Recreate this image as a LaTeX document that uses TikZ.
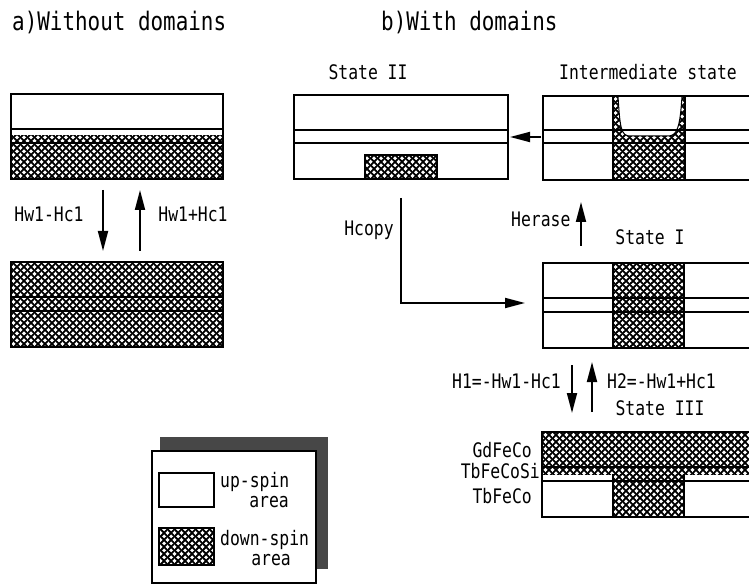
\documentclass[tikz,border=0pt]{standalone}
\usepackage{fontspec}
\usetikzlibrary{patterns.meta,arrows.meta}
\newfontfamily\monofam[FakeStretch=0.82]{DejaVu Sans Mono}
\newcommand\smallmono{\monofam\fontsize{20}{21}\selectfont}
\newcommand\bigmono{\monofam\fontsize{25.5}{27}\selectfont}

% dense cross-hatch used for down-spin areas
\tikzdeclarepattern{
  name=xhatch,
  type=uncolored,
  bottom left={(0pt,0pt)},
  top right={(7pt,7pt)},
  tile size={(7pt,7pt)},
  code={
    \draw[line width=2pt] (-1pt,-1pt) -- (8pt,8pt) (-1pt,8pt) -- (8pt,-1pt);
  }
}

\tikzset{
  wall/.style={line width=1.6pt},
  thinwall/.style={line width=1pt},
  dn/.style={pattern=xhatch, pattern color=black},
  lbl/.style={font=\smallmono, inner sep=0pt},
  ttl/.style={font=\bigmono, inner sep=0pt},
  fld/.style={line width=1.8pt, -{Triangle[length=20pt,width=10pt]}},
}

\begin{document}
\begin{tikzpicture}[x=1pt,y=-1pt]
\useasboundingbox (0,0) rectangle (749,585);

% ---------- titles ----------
\node[ttl, anchor=base west] (ta) at (12,31) {a)Without domains};
\node[ttl, anchor=base west] (tb) at (381,31) {b)With domains};

% ---------- a) top stack ----------
\fill[dn] (11,136) rectangle (223,179);
\draw[wall] (11,94) rectangle (223,179);
\draw[wall] (11,129) -- (223,129) (11,143) -- (223,143);

% ---------- a) bottom stack ----------
\fill[dn] (11,262) rectangle (223,347);
\draw[wall] (11,262) rectangle (223,347);
\draw[wall] (11,297) -- (223,297) (11,311) -- (223,311);

% a) field arrows
\coordinate (aDownS) at (103,190);
\coordinate (aDownE) at (103,251);
\coordinate (aUpS) at (140,251);
\coordinate (aUpE) at (140,190);
\draw[fld] (aDownS) -- (aDownE);
\draw[fld] (aUpS) -- (aUpE);
\node[lbl, anchor=base] (lwm) at (49,222) {Hw1-Hc1};
\node[lbl, anchor=base] (lwp) at (193,222) {Hw1+Hc1};

% ---------- b) State II ----------
\node[lbl, anchor=base] (s2) at (368,80) {State II};
\fill[dn] (365,155) rectangle (437,179);
\draw[wall] (365,155) rectangle (437,179);
\draw[wall] (294,95) rectangle (508,179);
\draw[wall] (294,130) -- (508,130) (294,143) -- (508,143);

% ---------- b) Intermediate state ----------
\node[lbl, anchor=base] (si) at (648,80) {Intermediate state};
\fill[dn] (613,96) rectangle (685,180);
\fill[white] (618,96) .. controls (620,128) and (621,136) .. (630,136)
  -- (668,136) .. controls (677,136) and (680,128) .. (682,96) -- cycle;
\draw[thinwall] (618,96) .. controls (620,128) and (621,136) .. (630,136)
  -- (668,136) .. controls (677,136) and (680,128) .. (682,96);
\draw[wall] (749,96) -- (543,96) -- (543,180) -- (749,180);
\draw[wall] (543,130) -- (749,130) (543,143) -- (749,143);
\draw[wall] (613,96) -- (613,180) (685,96) -- (685,180);

\coordinate (iL) at (541,137);
\coordinate (s2R) at (510,137);
\draw[fld] (iL) -- (s2R);

% ---------- b) State I ----------
\node[lbl, anchor=base] (s1) at (650,245) {State I};
\fill[dn] (613,263) rectangle (684,348);
\draw[wall] (749,263) -- (543,263) -- (543,348) -- (749,348);
\draw[wall] (543,298) -- (749,298) (543,312) -- (749,312);
\draw[wall] (613,263) -- (613,348) (684,263) -- (684,348);

% erase and copy fields
\coordinate (eS) at (581,246);
\coordinate (eE) at (581,202);
\draw[fld] (eS) -- (eE);
\node[lbl, anchor=base west] (her) at (511,227) {Herase};

\coordinate (cS) at (401,198);
\coordinate (cE) at (525,303);
\draw[fld] (cS) |- (cE);
\node[lbl, anchor=base] (hco) at (369,236) {Hcopy};

% fields between State I and State III
\coordinate (h1S) at (572,365);
\coordinate (h1E) at (572,413);
\coordinate (h2S) at (592,412);
\coordinate (h2E) at (592,362);
\draw[fld] (h1S) -- (h1E);
\draw[fld] (h2S) -- (h2E);
\node[lbl, anchor=base east] (h1) at (561,388) {H1=-Hw1-Hc1};
\node[lbl, anchor=base west] (h2) at (607,388) {H2=-Hw1+Hc1};

% ---------- b) State III ----------
\node[lbl, anchor=base] (s3) at (660,415) {State III};
\fill[dn] (542,432) rectangle (749,474);
\fill[dn] (613,474) rectangle (684,517);
\draw[wall] (749,432) -- (542,432) -- (542,517) -- (749,517);
\draw[wall] (542,467) -- (749,467) (542,481) -- (749,481);
\draw[wall] (613,474) -- (613,517) (684,474) -- (684,517);
\node[lbl, anchor=base east] (gd) at (532,457) {GdFeCo};
\node[lbl, anchor=base east] (tbs) at (540,478) {TbFeCoSi};
\node[lbl, anchor=base east] (tbf) at (532,503) {TbFeCo};

% ---------- legend ----------
\fill[black!72] (160,437) rectangle (328,569);
\draw[wall, fill=white] (152,451) rectangle (316,583);
\draw[wall] (159,473) rectangle (214,507);
\fill[dn] (159,528) rectangle (214,565);
\draw[wall] (159,528) rectangle (214,565);
\node[lbl, anchor=base west] (lu1) at (220,487) {up-spin};
\node[lbl, anchor=base east] (lu2) at (289,507) {area};
\node[lbl, anchor=base west] (ld1) at (220,545) {down-spin};
\node[lbl, anchor=base east] (ld2) at (291,565) {area};
\end{tikzpicture}
\end{document}
